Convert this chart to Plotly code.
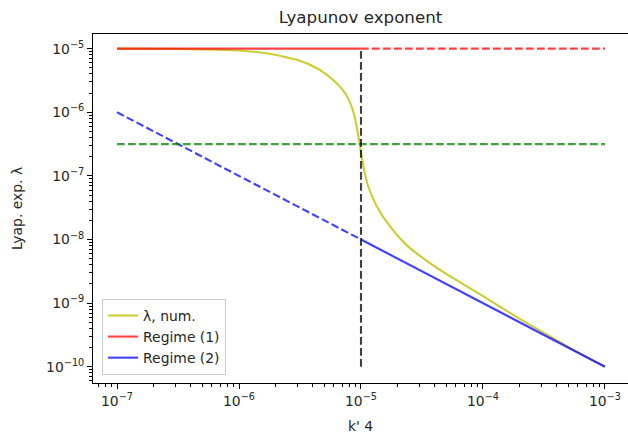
import plotly.graph_objects as go

# --- data ---
k_num = [1.0e-7, 3.16e-7, 1.0e-6, 1.78e-6, 3.16e-6, 4.47e-6, 5.89e-6, 7.08e-6, 7.94e-6,
         8.71e-6, 9.33e-6, 9.77e-6, 1.047e-5, 1.148e-5, 1.35e-5, 1.74e-5, 2.40e-5,
         3.55e-5, 5.62e-5, 1.0e-4, 1.78e-4, 3.16e-4, 5.62e-4, 1.0e-3]
lam_num = [1.0e-5, 9.88e-6, 9.33e-6, 8.32e-6, 6.46e-6, 4.79e-6, 3.24e-6, 2.24e-6, 1.58e-6,
           9.77e-7, 5.25e-7, 3.16e-7, 1.41e-7, 6.76e-8, 3.31e-8, 1.58e-8, 7.94e-9,
           4.47e-9, 2.51e-9, 1.29e-9, 6.50e-10, 3.40e-10, 1.81e-10, 1.01e-10]

k_reg1_solid = [1e-7, 1e-5]
lam_reg1_solid = [1e-5, 1e-5]
k_reg1_dash = [1e-5, 1e-3]
lam_reg1_dash = [1e-5, 1e-5]

k_reg2_dash = [1e-7, 1e-5]
lam_reg2_dash = [1e-6, 1e-8]
k_reg2_solid = [1e-5, 1e-3]
lam_reg2_solid = [1e-8, 1e-10]

k_green = [1e-7, 1e-3]
lam_green = [3.16e-7, 3.16e-7]

k_vline = [1e-5, 1e-5]
lam_vline = [1e-10, 1e-5]

x_ticks = [1e-7, 1e-6, 1e-5, 1e-4, 1e-3]
x_ticktext = ["10<sup>\u22127</sup>", "10<sup>\u22126</sup>", "10<sup>\u22125</sup>",
              "10<sup>\u22124</sup>", "10<sup>\u22123</sup>"]
y_ticks = [1e-10, 1e-9, 1e-8, 1e-7, 1e-6, 1e-5]
y_ticktext = ["10<sup>\u221210</sup>", "10<sup>\u22129</sup>", "10<sup>\u22128</sup>",
              "10<sup>\u22127</sup>", "10<sup>\u22126</sup>", "10<sup>\u22125</sup>"]

YEL = "rgba(191,191,0,0.8)"
RED = "rgba(255,0,0,0.75)"
BLUE = "rgba(0,0,255,0.75)"
GREEN = "rgba(0,128,0,0.75)"
BLACK = "rgba(0,0,0,0.75)"
DASH = "7.7px,3.3px"
LW = 2.1

fig = go.Figure()
fig.add_trace(go.Scatter(x=k_num, y=lam_num, mode="lines", name="\u03bb, num.",
                         line=dict(color=YEL, width=LW, shape="spline", smoothing=0.6)))
fig.add_trace(go.Scatter(x=k_reg1_solid, y=lam_reg1_solid, mode="lines", name="Regime (1)",
                         line=dict(color=RED, width=LW)))
fig.add_trace(go.Scatter(x=k_reg2_solid, y=lam_reg2_solid, mode="lines", name="Regime (2)",
                         line=dict(color=BLUE, width=LW)))
fig.add_trace(go.Scatter(x=k_reg1_dash, y=lam_reg1_dash, mode="lines", showlegend=False,
                         line=dict(color=RED, width=LW, dash=DASH)))
fig.add_trace(go.Scatter(x=k_reg2_dash, y=lam_reg2_dash, mode="lines", showlegend=False,
                         line=dict(color=BLUE, width=LW, dash=DASH)))
fig.add_trace(go.Scatter(x=k_green, y=lam_green, mode="lines", showlegend=False,
                         line=dict(color=GREEN, width=LW, dash=DASH)))
fig.add_trace(go.Scatter(x=k_vline, y=lam_vline, mode="lines", showlegend=False,
                         line=dict(color=BLACK, width=LW, dash=DASH)))

minor_x = [m * 10.0 ** e for e in range(-8, -2) for m in range(2, 10)]
minor_y = [m * 10.0 ** e for e in range(-11, -4) for m in range(2, 10)]

FONT = "DejaVu Sans"
TXT = "#262626"
fig.update_layout(
    width=628, height=438,
    margin=dict(l=93, r=0, t=34, b=55, autoexpand=False),
    paper_bgcolor="white", plot_bgcolor="white",
    font=dict(family=FONT, size=13.9, color=TXT),
    title=dict(text="Lyapunov exponent", x=0.5, xref="paper", y=1 - 17 / 438,
               yanchor="middle", xanchor="center", font=dict(size=16.7, family=FONT)),
    legend=dict(x=0.017, y=0.023, xanchor="left", yanchor="bottom",
                bgcolor="rgba(255,255,255,0.8)", bordercolor="#cccccc", borderwidth=1,
                font=dict(size=13.9, family=FONT), tracegroupgap=0),
    showlegend=True,
)
fig.update_xaxes(type="log", range=[-7.197, -2.811], showgrid=False, zeroline=False,
                 automargin=False,
                 showline=True, linecolor="black", linewidth=1.1, mirror=True,
                 ticks="outside", ticklen=4.9, tickwidth=1.1, tickcolor="black",
                 tickmode="array", tickvals=x_ticks, ticktext=x_ticktext,
                 minor=dict(tickmode="array", tickvals=minor_x, ticks="outside",
                            ticklen=2.8, tickwidth=0.8, tickcolor="black", showgrid=False),
                 title=dict(text="k' 4", font=dict(size=13.9, family=FONT), standoff=13))
fig.update_yaxes(type="log", range=[-10.255, -4.77], showgrid=False, zeroline=False,
                 automargin=False,
                 showline=True, linecolor="black", linewidth=1.1, mirror=False,
                 ticks="outside", ticklen=4.9, tickwidth=1.1, tickcolor="black",
                 tickmode="array", tickvals=y_ticks, ticktext=y_ticktext,
                 minor=dict(tickmode="array", tickvals=minor_y, ticks="outside",
                            ticklen=2.8, tickwidth=0.8, tickcolor="black", showgrid=False),
                 title=dict(text="Lyap. exp. \u03bb", font=dict(size=13.9, family=FONT), standoff=20))

fig.write_html("out.html", config={"displayModeBar": False},
               post_script="document.body.style.margin='0px';document.body.style.overflow='hidden';")
